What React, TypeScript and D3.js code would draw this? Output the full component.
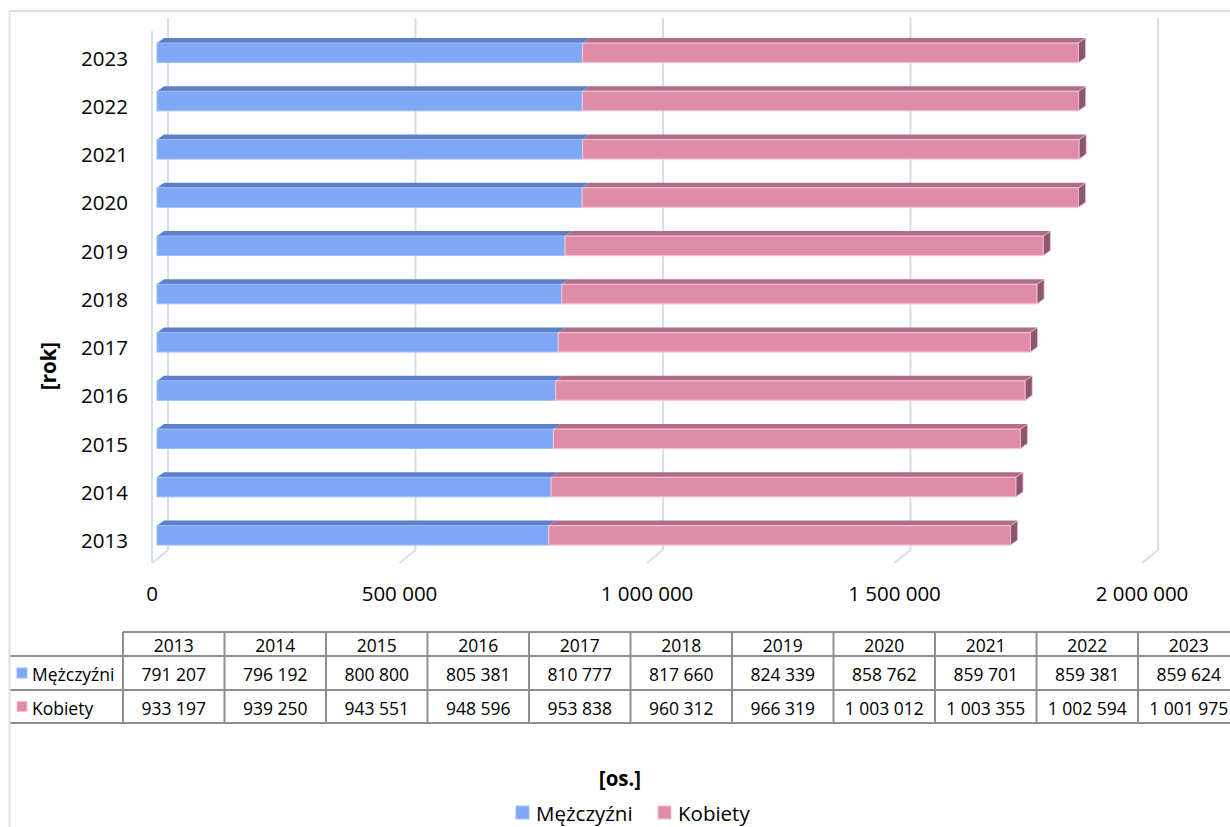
import React from "react";
import * as d3 from "d3";

// Population by sex, per year
const years = ["2013", "2014", "2015", "2016", "2017", "2018", "2019", "2020", "2021", "2022", "2023"];
const men = [791207, 796192, 800800, 805381, 810777, 817660, 824339, 858762, 859701, 859381, 859624];
const women = [933197, 939250, 943551, 948596, 953838, 960312, 966319, 1003012, 1003355, 1002594, 1001975];
const xTicks = [0, 500000, 1000000, 1500000, 2000000];
const seriesNames = ["Mężczyźni", "Kobiety"];
const yTitle = "[rok]";
const xTitle = "[os.]";

const W = 1230;
const H = 827;

const fmt = d3
  .formatLocale({ decimal: ",", thousands: " ", grouping: [3], currency: ["", " zł"] })
  .format(",d");

const FONT = "'Open Sans', 'Noto Sans', sans-serif";

const C = {
  blueFront: "#7fa8f6",
  blueTop: "#5c81c9",
  blueRim: "#9dbcf8",
  pinkFront: "#e08ba8",
  pinkTop: "#b06d89",
  pinkSide: "#8c5571",
  pinkRim: "#f3c2d3",
  grid: "#d5deeb",
  frame: "#d9e2f1",
  table: "#8e8e8e",
  text: "#000",
};

export default function App() {
  // value scale shared by walls and bars; each plane adds its own x origin
  const x = d3.scaleLinear().domain([0, 2000000]).range([0, 990]);
  const frontX0 = 152; // front edge of the floor
  const backX0 = 168; // back wall
  const barX0 = 157; // bar front faces sit between them
  const wallTop = 18;
  const wallBottom = 550;
  const depthX = 16;
  const depthY = 13;

  const y = d3.scaleBand<string>().domain([...years].reverse()).range([28.4, 559.2]);

  // bar depth vector
  const bdx = 7;
  const bdy = 5;
  const barH = 19.5;

  const col = d3.scaleBand<string>().domain(years).range([123, 123 + 11 * 101.5]);
  const tableTop = 632;
  const rowEdges = [632, 656, 690, 723];

  const bars = years.map((yr, i) => {
    const cy = (y(yr) as number) + y.bandwidth() / 2;
    const yT = cy - 9.5;
    const yB = yT + barH;
    const xa = barX0 + x(0);
    const xm = barX0 + x(men[i]);
    const xe = barX0 + x(men[i] + women[i]);
    const top = (a: number, b: number) =>
      `${a},${yT} ${a + bdx},${yT - bdy} ${b + bdx},${yT - bdy} ${b},${yT}`;
    return (
      <g key={yr}>
        <polygon points={top(xa, xm)} fill={C.blueTop} />
        <rect x={xa} y={yT} width={xm - xa} height={barH} fill={C.blueFront} stroke={C.blueRim} strokeWidth={1} />
        <polygon points={top(xm, xe)} fill={C.pinkTop} />
        <rect x={xm} y={yT} width={xe - xm} height={barH} fill={C.pinkFront} stroke={C.pinkRim} strokeWidth={1.2} />
        <polygon
          points={`${xe},${yT} ${xe + bdx},${yT - bdy} ${xe + bdx},${yB - bdy} ${xe},${yB}`}
          fill={C.pinkSide}
          stroke={C.pinkRim}
          strokeWidth={0.8}
        />
        <text
          x={128}
          y={cy + 5}
          textAnchor="end"
          dominantBaseline="central"
          fontSize={20.5}
          fontFamily={FONT}
          fill={C.text}
        >
          {yr}
        </text>
      </g>
    );
  });

  return (
    <svg
      width={W}
      height={H}
      style={{ position: "absolute", left: 0, top: 0, background: "#fff" }}
      xmlns="http://www.w3.org/2000/svg"
    >
      {/* chart frame */}
      <line x1={9.5} y1={11} x2={W} y2={11} stroke={C.frame} strokeWidth={2} />
      <line x1={9.5} y1={11} x2={9.5} y2={H} stroke={C.frame} strokeWidth={2} />

      {/* walls and gridlines */}
      <g stroke={C.grid} strokeWidth={2} fill="none">
        {xTicks.map((t) => (
          <g key={t}>
            <line x1={backX0 + x(t)} y1={wallTop} x2={backX0 + x(t)} y2={wallBottom} />
            <line
              x1={backX0 + x(t)}
              y1={wallBottom}
              x2={frontX0 + x(t)}
              y2={wallBottom + depthY}
            />
          </g>
        ))}
        <line x1={frontX0} y1={wallTop + depthY} x2={frontX0} y2={wallBottom + depthY} />
      </g>

      {bars}

      {/* value axis labels */}
      {xTicks.map((t) => (
        <text
          key={t}
          x={frontX0 + x(t)}
          y={593}
          textAnchor="middle"
          dominantBaseline="central"
          fontSize={20.5}
          fontFamily={FONT}
          fill={C.text}
        >
          {fmt(t)}
        </text>
      ))}

      {/* category axis title */}
      <text
        transform={`translate(48,366) rotate(-90)`}
        textAnchor="middle"
        dominantBaseline="central"
        fontSize={20.5}
        fontWeight="bold"
        fontFamily={FONT}
        fill={C.text}
      >
        {yTitle}
      </text>

      {/* data table */}
      <g stroke={C.table} strokeWidth={2}>
        <line x1={123} y1={tableTop} x2={W} y2={tableTop} />
        {rowEdges.slice(1).map((r) => (
          <line key={r} x1={10.5} y1={r} x2={W} y2={r} />
        ))}
        {years.map((yr) => (
          <line key={yr} x1={col(yr)} y1={tableTop} x2={col(yr)} y2={rowEdges[3]} />
        ))}
      </g>
      {years.map((yr, i) => {
        const cx = (col(yr) as number) + col.bandwidth() / 2;
        return (
          <g key={yr} fontSize={17.5} fontFamily={FONT} fill={C.text} textAnchor="middle">
            <text x={cx} y={(rowEdges[0] + rowEdges[1]) / 2 + 1} dominantBaseline="central">
              {yr}
            </text>
            <text x={cx} y={(rowEdges[1] + rowEdges[2]) / 2 + 1} dominantBaseline="central">
              {fmt(men[i])}
            </text>
            <text x={cx} y={(rowEdges[2] + rowEdges[3]) / 2 + 1} dominantBaseline="central">
              {fmt(women[i])}
            </text>
          </g>
        );
      })}
      {seriesNames.map((name, k) => {
        const cy = (rowEdges[k + 1] + rowEdges[k + 2]) / 2;
        return (
          <g key={name}>
            <rect
              x={17}
              y={cy - 5}
              width={10}
              height={10}
              fill={k === 0 ? C.blueFront : C.pinkFront}
              stroke={k === 0 ? C.blueRim : C.pinkRim}
              strokeWidth={1}
            />
            <text
              x={32}
              y={cy + 1}
              dominantBaseline="central"
              fontSize={17.5}
              fontFamily={FONT}
              fill={C.text}
            >
              {name}
            </text>
          </g>
        );
      })}

      {/* value axis title */}
      <text
        x={620}
        y={778}
        textAnchor="middle"
        dominantBaseline="central"
        fontSize={20.5}
        fontWeight="bold"
        fontFamily={FONT}
        fill={C.text}
      >
        {xTitle}
      </text>

      {/* legend */}
      {seriesNames.map((name, k) => {
        const lx = k === 0 ? 516 : 658;
        return (
          <g key={name}>
            <rect
              x={lx}
              y={806}
              width={13}
              height={13}
              fill={k === 0 ? C.blueFront : C.pinkFront}
              stroke={k === 0 ? C.blueRim : C.pinkRim}
              strokeWidth={1}
            />
            <text
              x={lx + 20}
              y={813}
              dominantBaseline="central"
              fontSize={20.5}
              fontFamily={FONT}
              fill={C.text}
            >
              {name}
            </text>
          </g>
        );
      })}
    </svg>
  );
}
